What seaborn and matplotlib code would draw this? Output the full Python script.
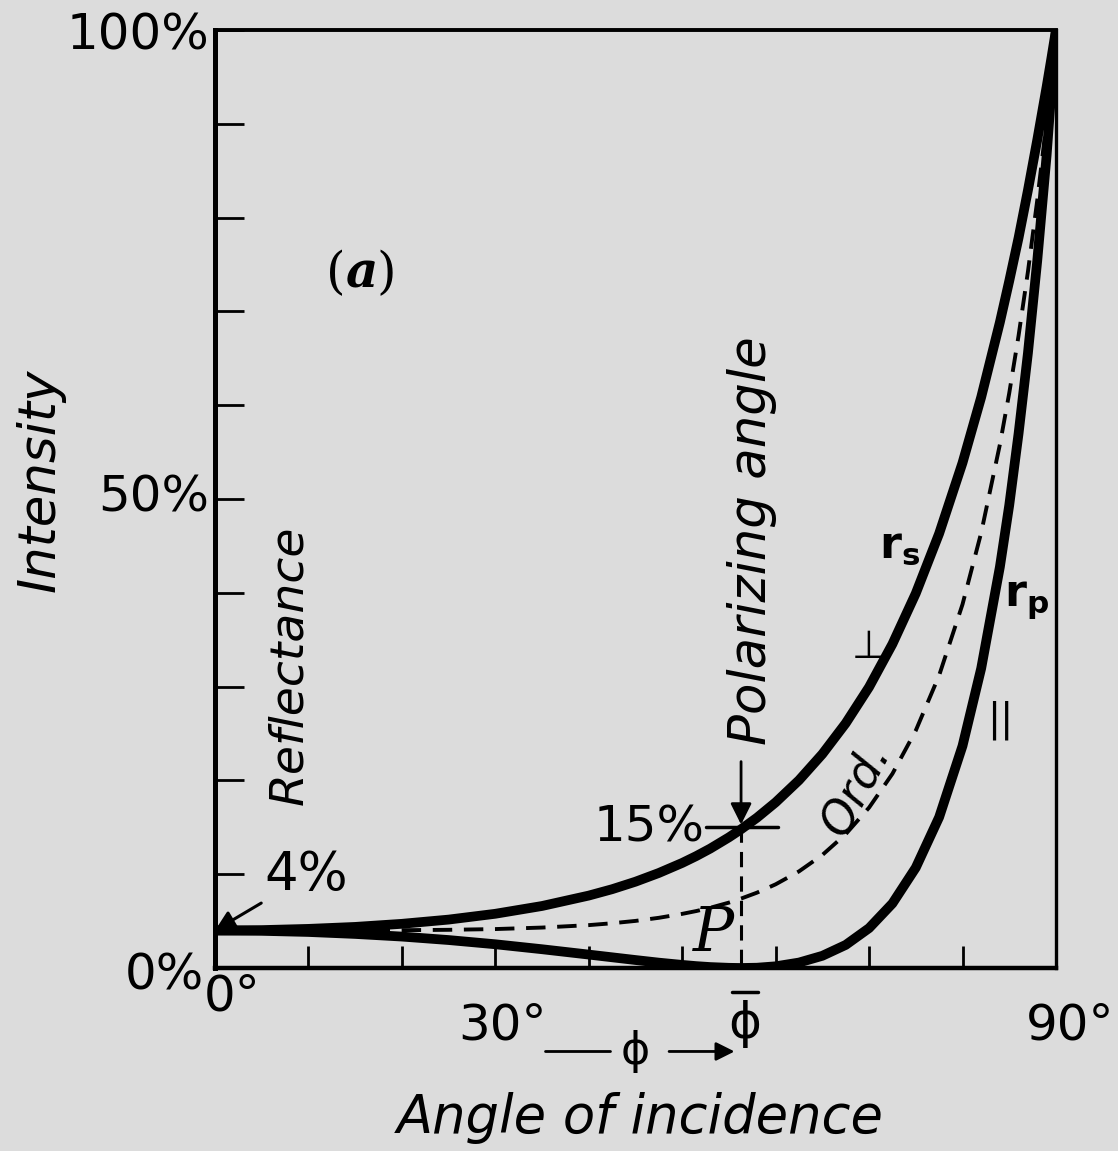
import matplotlib
matplotlib.use("Agg")
import matplotlib.pyplot as plt
import seaborn as sns
import pandas as pd

# ---------------- data ----------------
angles = [0, 5, 10, 15, 20, 25, 30, 35, 40, 42.5, 45, 47.5, 50, 51.5, 53, 55, 56.3,
          58, 60, 62.5, 65, 67.5, 70, 72.5, 75, 77.5, 80, 82, 84, 85, 86, 87, 88,
          89, 89.5, 90]
r_s = [4.0, 4.04, 4.17, 4.38, 4.71, 5.16, 5.78, 6.61, 7.72, 8.40, 9.20, 10.13,
       11.20, 11.93, 12.73, 13.93, 14.79, 16.02, 17.66, 20.02, 22.81, 26.09, 29.95,
       34.54, 39.94, 46.32, 53.86, 60.86, 68.85, 73.24, 77.85, 82.91, 88.29, 93.94,
       96.92, 100.0]
r_p = [4.0, 3.96, 3.84, 3.63, 3.35, 2.98, 2.53, 2.00, 1.43, 1.14, 0.85, 0.57,
       0.33, 0.20, 0.10, 0.02, 0.0, 0.03, 0.18, 0.58, 1.30, 2.46, 4.25, 6.88,
       10.70, 16.08, 23.68, 31.95, 42.76, 49.33, 56.98, 65.54, 75.42, 86.62,
       93.40, 100.0]
r_ord = [4.0, 4.0, 4.0, 4.01, 4.03, 4.07, 4.15, 4.31, 4.57, 4.77, 5.02, 5.35,
         5.77, 6.07, 6.42, 6.97, 7.40, 8.03, 8.92, 10.30, 12.05, 14.27, 17.10,
         20.71, 25.32, 31.20, 38.77, 46.41, 55.81, 61.29, 67.42, 74.23, 81.86,
         90.28, 95.16, 100.0]

brewster_angle = 56.3
brewster_rs = 15
normal_r = 4

x_ticks = list(range(0, 91, 10))
y_ticks = list(range(0, 101, 10))
y_labels = {0: "0%", 50: "50%", 100: "100%"}
x_labels = {0: "0°", 30: "30°", 90: "90°"}

# ---------------- style ----------------
BG = "#dcdcdc"
sns.set_theme(style="ticks")
plt.rcParams["font.family"] = ["DejaVu Sans"]
plt.rcParams["axes.facecolor"] = BG
plt.rcParams["figure.facecolor"] = BG
plt.rcParams["text.color"] = "black"

df = pd.DataFrame({"angle": angles * 3,
                   "R": r_s + r_p + r_ord,
                   "series": ["rs"] * len(angles) + ["rp"] * len(angles) + ["ord"] * len(angles)})

fig = plt.figure(figsize=(11.18, 11.51), dpi=100)
ax = fig.add_axes([0.1923, 0.1590, 0.7522, 0.8149])

sns.lineplot(data=df[df.series == "ord"], x="angle", y="R", color="black",
             linewidth=2.8, ax=ax, legend=False, linestyle=(0, (5, 3)))
sns.lineplot(data=df[df.series == "rs"], x="angle", y="R", color="black",
             linewidth=7, ax=ax, legend=False)
sns.lineplot(data=df[df.series == "rp"], x="angle", y="R", color="black",
             linewidth=7, ax=ax, legend=False)

ax.set_xlim(0, 90)
ax.set_ylim(0, 100)
ax.set_xticks(x_ticks)
ax.set_yticks(y_ticks)
ax.set_xticklabels([])
ax.set_yticklabels([])
ax.tick_params(axis="y", direction="in", length=21, width=2, color="black")
ax.tick_params(axis="x", direction="in", length=16, width=2, color="black")
ax.set_xlabel("")
ax.set_ylabel("")
for side, lw in (("left", 3.6), ("bottom", 3.2), ("top", 2.8), ("right", 2.4)):
    ax.spines[side].set_visible(True)
    ax.spines[side].set_linewidth(lw)
    ax.spines[side].set_color("black")

# tick labels as texts
lab_fs = 36
ax.text(-0.6, 99.4, y_labels[100], ha="right", va="center", fontsize=lab_fs)
ax.text(-0.6, 50.2, y_labels[50], ha="right", va="center", fontsize=lab_fs)
ax.text(-1.2, -0.8, y_labels[0], ha="right", va="center", fontsize=lab_fs)
ax.text(-1.2, -3.0, x_labels[0], ha="left", va="center", fontsize=lab_fs)
ax.text(30.8, -6.1, x_labels[30], ha="center", va="center", fontsize=lab_fs)
ax.text(91.5, -6.1, x_labels[90], ha="center", va="center", fontsize=lab_fs)
ax.text(brewster_angle + 0.4, -6.0, "ϕ", ha="center", va="center", fontsize=36)
ax.plot([brewster_angle - 1.0, brewster_angle + 1.8], [-2.6, -2.6], color="black",
        lw=2.5, clip_on=False)

# phi arrow under the axis
ax.plot([35.3, 42.3], [-8.9, -8.9], color="black", lw=2, clip_on=False)
ax.text(45.0, -8.9, "ϕ", ha="center", va="center", fontsize=32)
ax.annotate("", xy=(brewster_angle - 0.4, -8.9), xytext=(48.3, -8.9),
            arrowprops=dict(arrowstyle="-|>", lw=2, color="black", mutation_scale=28),
            annotation_clip=False)

ax.text(45.5, -16.0, "Angle of incidence", ha="center", va="center",
        fontsize=38, style="italic")
ax.text(-18.7, 52.0, "Intensity", ha="center", va="center", rotation=90,
        fontsize=37, style="italic")
ax.text(8.0, 32.3, "Reflectance", ha="center", va="center", rotation=90,
        fontsize=34, style="italic")
ax.text(brewster_angle + 1.2, 45.6, "Polarizing angle", ha="center", va="center",
        rotation=90, fontsize=37, style="italic")
ax.text(14.0, 74.0, "(", ha="right", va="center", fontsize=36, family="DejaVu Serif")
ax.text(14.0, 74.0, "a", ha="left", va="center", fontsize=36, family="DejaVu Serif",
        style="italic", weight="bold")
ax.text(17.3, 74.0, ")", ha="left", va="center", fontsize=36, family="DejaVu Serif")

# polarizing angle marker
ax.annotate("", xy=(brewster_angle, brewster_rs), xytext=(brewster_angle, 22.3),
            arrowprops=dict(arrowstyle="-|>", lw=2, color="black", mutation_scale=32))
ax.plot([brewster_angle - 3.8, brewster_angle + 4.0], [brewster_rs, brewster_rs],
        color="black", lw=2.5)
ax.plot([brewster_angle, brewster_angle], [brewster_rs, 0], color="black", lw=2.2,
        linestyle=(0, (5, 3)))
ax.text(brewster_angle - 3.9, brewster_rs, f"{brewster_rs}%", ha="right", va="center",
        fontsize=36)

# 4% arrow
ax.annotate(f"{normal_r}%", xy=(0, normal_r), xytext=(5.3, 9.9),
            ha="left", va="center", fontsize=38,
            arrowprops=dict(arrowstyle="-|>", lw=2.2, color="black", mutation_scale=30,
                            shrinkA=0, shrinkB=0, relpos=(0.0, 0.0)))

ax.text(53.3, 3.6, "P", ha="center", va="center", fontsize=44,
        family="DejaVu Serif", style="italic")
ax.text(68.6, 19.0, "Ord.", ha="center", va="center", rotation=62, fontsize=33,
        style="italic")
ax.text(73.3, 45.0, r"$\mathbf{r_s}$", ha="center", va="center", fontsize=32)
ax.text(86.9, 39.3, r"$\mathbf{r_p}$", ha="center", va="center", fontsize=32)
ax.text(70.0, 34.2, "⊥", ha="center", va="center", fontsize=28)
ax.text(84.0, 26.4, "||", ha="center", va="center", fontsize=28, style="italic")

fig.savefig("out.png", dpi=100, facecolor=BG)
